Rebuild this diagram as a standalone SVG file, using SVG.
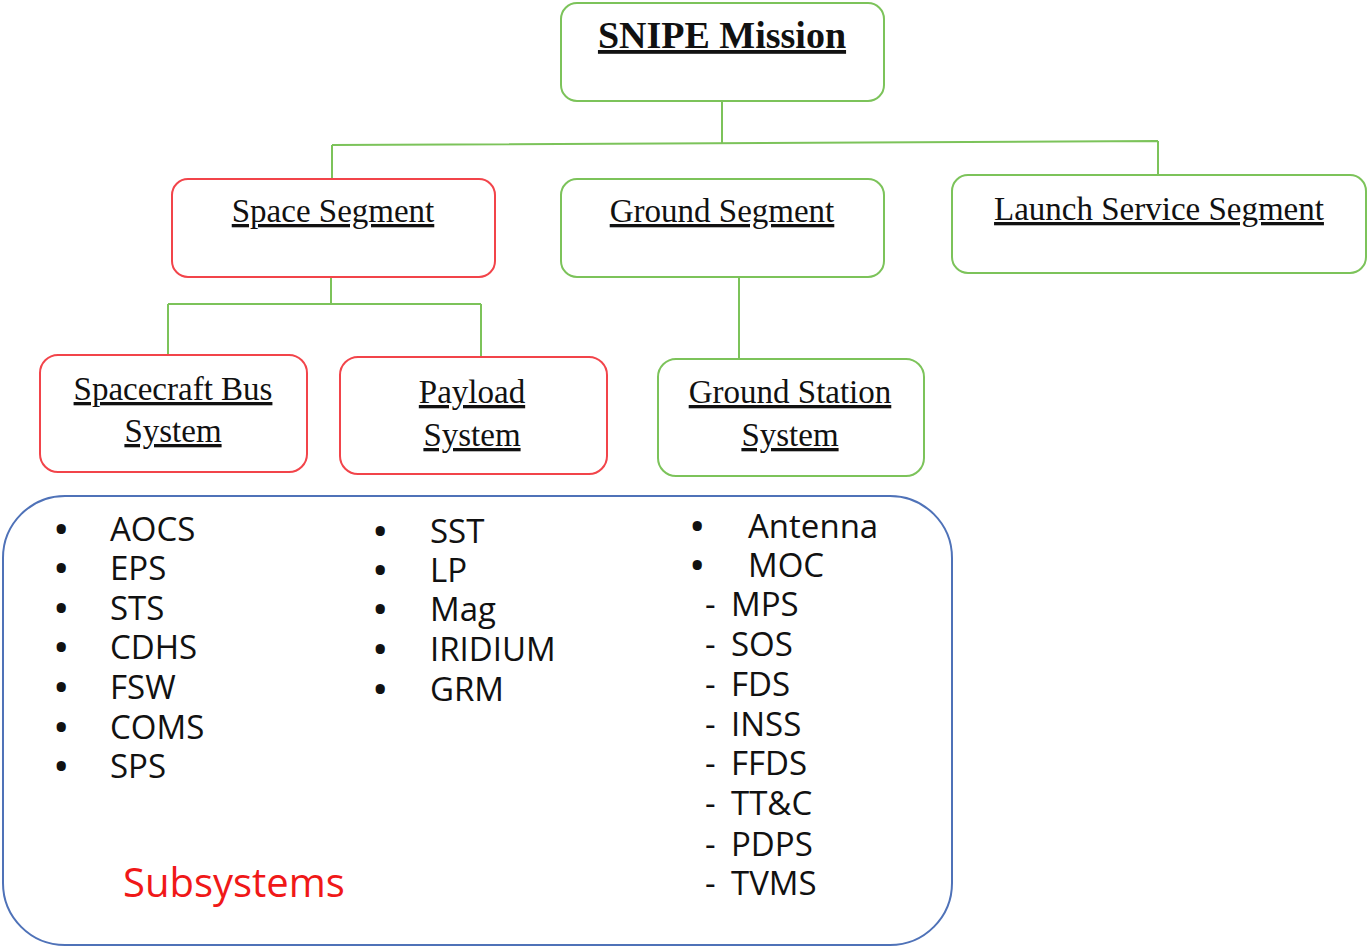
<svg xmlns="http://www.w3.org/2000/svg" width="1372" height="948" viewBox="0 0 1372 948">
<style>
.g{fill:#fff;stroke:#7cc35a;stroke-width:2}
.r{fill:#fff;stroke:#f2444a;stroke-width:2}
.h{font-family:"Liberation Serif",serif;font-size:33px;fill:#111;text-anchor:middle;text-decoration:underline}
.t{font-family:"Open Sans","Noto Sans",sans-serif;font-size:33px;fill:#111}
.b{font-weight:bold}
.c{fill:none;stroke:#7cc35a;stroke-width:2}
</style>
<rect width="1372" height="948" fill="#fff"/>
<g id="connectors">
<path class="c" d="M722 101V143M332 145L1158 141M332 145V179M1158 141V175"/>
<path class="c" d="M331 277V304M168 304H481M168 304V355M481 304V357"/>
<path class="c" d="M739 277V359"/>
</g>
<g id="snipe"><rect class="g" x="561" y="3" width="323" height="98" rx="16"/><text class="h" x="722" y="48" style="font-weight:bold;font-size:38px">SNIPE Mission</text></g>
<g id="space"><rect class="r" x="172" y="179" width="323" height="98" rx="16"/><text class="h" x="333" y="222">Space Segment</text></g>
<g id="ground"><rect class="g" x="561" y="179" width="323" height="98" rx="16"/><text class="h" x="722" y="222">Ground Segment</text></g>
<g id="launch"><rect class="g" x="952" y="175" width="414" height="98" rx="16"/><text class="h" x="1159" y="220">Launch Service Segment</text></g>
<g id="bus"><rect class="r" x="40" y="355" width="267" height="117" rx="18"/><text class="h" x="173" y="400">Spacecraft Bus</text><text class="h" x="173" y="442">System</text></g>
<g id="payload"><rect class="r" x="340" y="357" width="267" height="117" rx="18"/><text class="h" x="472" y="403">Payload</text><text class="h" x="472" y="446">System</text></g>
<g id="station"><rect class="g" x="658" y="359" width="266" height="117" rx="18"/><text class="h" x="790" y="403">Ground Station</text><text class="h" x="790" y="446">System</text></g>
<g id="subsystems">
<rect x="3" y="496" width="949" height="449" rx="62" fill="#fff" stroke="#4f72b8" stroke-width="2"/>
<g class="t">
<text class="b" x="55" y="541">•</text><text x="110" y="541">AOCS</text>
<text class="b" x="55" y="580">•</text><text x="110" y="580">EPS</text>
<text class="b" x="55" y="620">•</text><text x="110" y="620">STS</text>
<text class="b" x="55" y="659">•</text><text x="110" y="659">CDHS</text>
<text class="b" x="55" y="699">•</text><text x="110" y="699">FSW</text>
<text class="b" x="55" y="739">•</text><text x="110" y="739">COMS</text>
<text class="b" x="55" y="778">•</text><text x="110" y="778">SPS</text>
<text class="b" x="374" y="543">•</text><text x="430" y="543">SST</text>
<text class="b" x="374" y="582">•</text><text x="430" y="582">LP</text>
<text class="b" x="374" y="621">•</text><text x="430" y="621">Mag</text>
<text class="b" x="374" y="661">•</text><text x="430" y="661">IRIDIUM</text>
<text class="b" x="374" y="701">•</text><text x="430" y="701">GRM</text>
<text class="b" x="691" y="538">•</text><text x="748" y="538">Antenna</text>
<text class="b" x="691" y="577">•</text><text x="748" y="577">MOC</text>
<text x="705" y="616">-</text><text x="731" y="616">MPS</text>
<text x="705" y="656">-</text><text x="731" y="656">SOS</text>
<text x="705" y="696">-</text><text x="731" y="696">FDS</text>
<text x="705" y="736">-</text><text x="731" y="736">INSS</text>
<text x="705" y="775">-</text><text x="731" y="775">FFDS</text>
<text x="705" y="815">-</text><text x="731" y="815">TT&amp;C</text>
<text x="705" y="856">-</text><text x="731" y="856">PDPS</text>
<text x="705" y="895">-</text><text x="731" y="895">TVMS</text>
</g>
<text x="123" y="897" style="font-family:'Open Sans','Noto Sans',sans-serif;font-size:40px;fill:#f01818">Subsystems</text>
</g>
</svg>
